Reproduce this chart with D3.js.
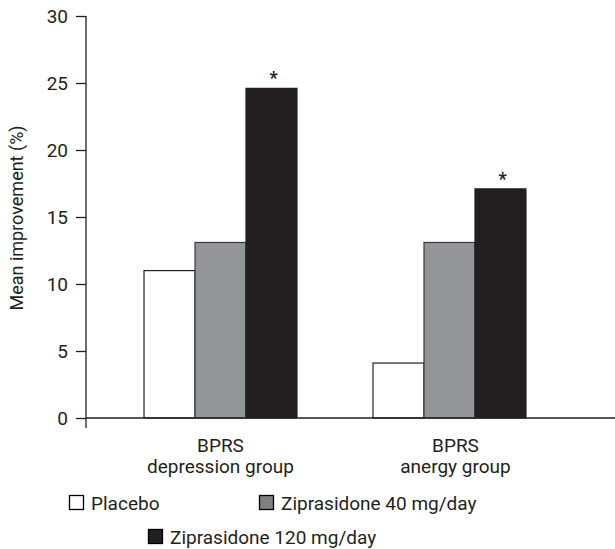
<!DOCTYPE html>
<html>
<head>
<meta charset="utf-8">
<script src="https://cdn.jsdelivr.net/npm/d3@7"></script>
<style>
  html, body { margin: 0; padding: 0; background: #fff; }
  svg { display: block; }
  text { font-family: Roboto, "Liberation Sans", sans-serif; fill: #231f20; }
</style>
</head>
<body>
<svg id="chart" width="615" height="549"></svg>
<script>
// ---- data ----
const groups = ["BPRS\ndepression group", "BPRS\nanergy group"];
const seriesNames = ["Placebo", "Ziprasidone 40 mg/day", "Ziprasidone 120 mg/day"];
const placebo = [11.0, 4.1];
const zip40 = [13.1, 13.1];
const zip120 = [24.6, 17.1];
const significant = [false, false, true]; // asterisk over the 120 mg/day bars
const yTicks = [0, 5, 10, 15, 20, 25, 30];
const yLabel = "Mean improvement (%)";

// ---- styles ----
const fills = ["#ffffff", "#939598", "#231f20"];
const ink = "#231f20";

const svg = d3.select("#chart");
const values = [placebo, zip40, zip120];

const y = d3.scaleLinear().domain([0, 30]).range([418, 16]);
const x0 = d3.scaleBand().domain(groups).range([68, 602]).paddingInner(0.332).paddingOuter(0.332);
const x1 = d3.scaleBand().domain(seriesNames).range([0, x0.bandwidth()]).padding(0);

// bars
groups.forEach((g, gi) => {
  const gg = svg.append("g").attr("transform", `translate(${x0(g)},0)`);
  seriesNames.forEach((s, si) => {
    const v = values[si][gi];
    gg.append("rect")
      .attr("x", x1(s))
      .attr("y", y(v))
      .attr("width", x1.bandwidth())
      .attr("height", y(0) - y(v))
      .attr("fill", fills[si])
      .attr("stroke", si === 1 ? "#3a3a3a" : ink)
      .attr("stroke-width", 1.2);
    if (significant[si]) {
      gg.append("text")
        .attr("x", x1(s) + x1.bandwidth() / 2 + 2)
        .attr("y", y(v) - 4)
        .attr("text-anchor", "middle")
        .attr("font-size", 18)
        .attr("font-weight", "bold")
        .text("*");
    }
  });
});

// y axis
const yAxis = d3.axisLeft(y).tickValues(yTicks).tickSize(10).tickPadding(8);
const ya = svg.append("g").attr("transform", "translate(86,0)").call(yAxis);
ya.select(".domain").remove();
ya.selectAll(".tick line").attr("stroke", ink).attr("stroke-width", 1.3);
ya.selectAll(".tick text").attr("font-size", 19).attr("fill", ink)
  .attr("font-family", "Roboto, sans-serif");
svg.append("line").attr("x1", 86).attr("x2", 86).attr("y1", y(30)).attr("y2", y(0) + 10)
  .attr("stroke", ink).attr("stroke-width", 1.3);
// x axis baseline
svg.append("line").attr("x1", 86).attr("x2", 615).attr("y1", y(0)).attr("y2", y(0))
  .attr("stroke", ink).attr("stroke-width", 1.5);

// y label
svg.append("text")
  .attr("transform", `translate(23,${218}) rotate(-90)`)
  .attr("text-anchor", "middle")
  .attr("font-size", 18)
  .text(yLabel);

// category labels
groups.forEach((g, gi) => {
  const cx = x0(g) + x0.bandwidth() / 2 + (gi === 1 ? 6 : 0);
  const lines = g.split("\n");
  lines.forEach((ln, li) => {
    svg.append("text")
      .attr("x", cx)
      .attr("y", 452 + li * 21)
      .attr("text-anchor", "middle")
      .attr("font-size", 19)
      .text(ln);
  });
});

// legend
const legendPos = [[69, 510], [259, 510], [148, 544]];
seriesNames.forEach((s, si) => {
  const [lx, ly] = legendPos[si];
  svg.append("rect")
    .attr("x", lx + 0.5).attr("y", ly - 14.5)
    .attr("width", 14).attr("height", 14)
    .attr("fill", si === 1 ? "#808080" : fills[si])
    .attr("stroke", "#000").attr("stroke-width", 1.3);
  svg.append("text")
    .attr("x", lx + 22)
    .attr("y", ly)
    .attr("font-size", 19)
    .text(s);
});
</script>
</body>
</html>
